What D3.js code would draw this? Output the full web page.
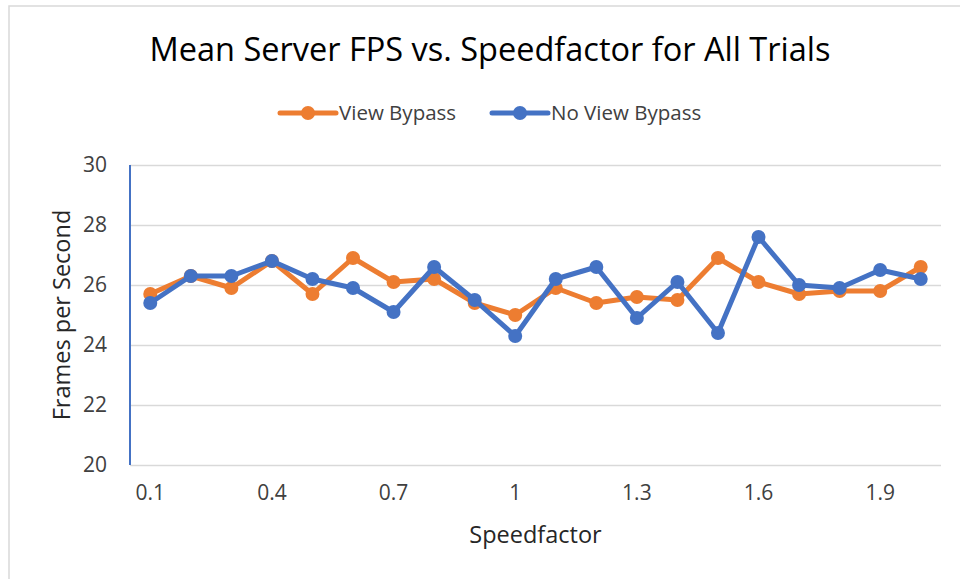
<!DOCTYPE html>
<html>
<head>
<meta charset="utf-8">
<script src="https://cdn.jsdelivr.net/npm/d3@7.9.0/dist/d3.min.js"></script>
<style>
  body { margin: 0; background: #fff; }
  svg { display: block; font-family: "Open Sans", "Noto Sans", sans-serif; }
</style>
</head>
<body>
<div id="plot-container"></div>
<script>
// speedfactor categories
const speedfactors = ["0.1","0.2","0.3","0.4","0.5","0.6","0.7","0.8","0.9","1",
                      "1.1","1.2","1.3","1.4","1.5","1.6","1.7","1.8","1.9","2"];
const tickLabels = ["0.1","0.4","0.7","1","1.3","1.6","1.9"];
const yTicks = [20, 22, 24, 26, 28, 30];

// mean server fps
const viewBypass   = [25.7, 26.3, 25.9, 26.8, 25.7, 26.9, 26.1, 26.2, 25.4, 25.0,
                      25.9, 25.4, 25.6, 25.5, 26.9, 26.1, 25.7, 25.8, 25.8, 26.6];
const noViewBypass = [25.4, 26.3, 26.3, 26.8, 26.2, 25.9, 25.1, 26.6, 25.5, 24.3,
                      26.2, 26.6, 24.9, 26.1, 24.4, 27.6, 26.0, 25.9, 26.5, 26.2];

const seriesNames = ["View Bypass", "No View Bypass"];
const colors = ["#ED7D31", "#4472C4"];

const width = 960;
const height = 579;

const svg = d3.select('#plot-container')
    .append('svg')
    .attr('width', width)
    .attr('height', height);

// chart border (top and left edges visible)
svg.append('path')
    .attr('d', `M9,${height} V6 H${width}`)
    .attr('fill', 'none')
    .attr('stroke', '#d9d9d9')
    .attr('stroke-width', 1.5);

const margin = { top: 165, right: 19, bottom: 114, left: 130 };
const usableArea = {
    top: margin.top,
    right: width - margin.right,
    bottom: height - margin.bottom,
    left: margin.left
};

const xScale = d3.scaleBand()
    .domain(speedfactors)
    .range([usableArea.left, usableArea.right]);

const yScale = d3.scaleLinear()
    .domain([20, 30])
    .range([usableArea.bottom, usableArea.top]);

const xPos = d => xScale(d) + xScale.bandwidth() / 2;

// gridlines
svg.append('g')
    .attr('class', 'gridlines')
    .attr('transform', `translate(${usableArea.left}, 0)`)
    .call(d3.axisLeft(yScale).tickValues(yTicks).tickFormat('').tickSize(-(usableArea.right - usableArea.left)))
    .call(g => g.select('.domain').remove())
    .call(g => g.selectAll('line').attr('stroke', '#d9d9d9').attr('stroke-width', 1.5));

// y axis labels
const yAxis = svg.append('g')
    .attr('transform', `translate(${usableArea.left}, 0)`)
    .call(d3.axisLeft(yScale).tickValues(yTicks).tickSize(0).tickPadding(23));
yAxis.select('.domain').remove();
yAxis.selectAll('text')
    .attr('font-size', 21)
    .attr('font-family', '"Open Sans", sans-serif')
    .attr('fill', '#404040');

// y axis line (blue)
svg.append('line')
    .attr('x1', usableArea.left).attr('x2', usableArea.left)
    .attr('y1', yScale(30)).attr('y2', yScale(20))
    .attr('stroke', '#4472C4')
    .attr('stroke-width', 2);

// x axis
const xAxis = svg.append('g')
    .attr('transform', `translate(0, ${usableArea.bottom})`)
    .call(d3.axisBottom(xScale).tickValues(tickLabels).tickSize(0).tickPadding(20));
xAxis.select('.domain').remove();
xAxis.selectAll('text')
    .attr('font-size', 21)
    .attr('font-family', '"Open Sans", sans-serif')
    .attr('fill', '#404040');

// axis titles
svg.append('text')
    .attr('x', (usableArea.left + usableArea.right) / 2)
    .attr('y', 543)
    .attr('text-anchor', 'middle')
    .attr('font-size', 23.5)
    .attr('fill', '#262626')
    .text('Speedfactor');

svg.append('text')
    .attr('transform', `translate(70, ${(usableArea.top + usableArea.bottom) / 2}) rotate(-90)`)
    .attr('text-anchor', 'middle')
    .attr('font-size', 23.5)
    .attr('fill', '#262626')
    .text('Frames per Second');

// title
svg.append('text')
    .attr('x', 490)
    .attr('y', 61)
    .attr('text-anchor', 'middle')
    .attr('font-size', 32.5)
    .attr('fill', '#000')
    .text('Mean Server FPS vs. Speedfactor for All Trials');

// lines
const data = [viewBypass, noViewBypass].map((vals, i) => ({
    name: seriesNames[i],
    color: colors[i],
    values: vals.map((v, j) => ({ sf: speedfactors[j], fps: v }))
}));

const line = d3.line()
    .x(d => xPos(d.sf))
    .y(d => yScale(d.fps));

const lines = svg.append('g').attr('class', 'lines');

data.forEach(s => {
    lines.append('path')
        .attr('fill', 'none')
        .attr('stroke', s.color)
        .attr('stroke-width', 5)
        .attr('stroke-linejoin', 'round')
        .attr('d', line(s.values));

    lines.selectAll(null)
        .data(s.values)
        .enter()
        .append('circle')
        .attr('cx', d => xPos(d.sf))
        .attr('cy', d => yScale(d.fps))
        .attr('r', 7)
        .attr('fill', s.color);
});

// legend
const legendItems = [
    { x: 280, name: seriesNames[0], color: colors[0] },
    { x: 492, name: seriesNames[1], color: colors[1] }
];
const legend = svg.append('g').attr('class', 'legend');
legendItems.forEach(item => {
    const g = legend.append('g').attr('transform', `translate(${item.x}, 113)`);
    g.append('line')
        .attr('x1', 0).attr('x2', 56)
        .attr('stroke', item.color)
        .attr('stroke-width', 5)
        .attr('stroke-linecap', 'round');
    g.append('circle')
        .attr('cx', 28)
        .attr('r', 7)
        .attr('fill', item.color);
    g.append('text')
        .attr('x', 59)
        .attr('dy', '0.35em')
        .attr('font-size', 20.5)
        .attr('fill', '#404040')
        .text(item.name);
});
</script>
</body>
</html>
